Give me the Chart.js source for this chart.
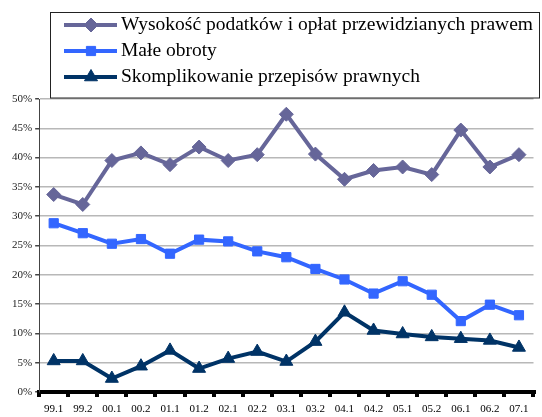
<!DOCTYPE html>
<html lang="pl">
<head>
  <meta charset="UTF-8">
  <title>Bariery</title>
  <style>
    body { margin: 0; padding: 0; background: #fff; }
    #wrap { width: 542px; height: 417px; }
  </style>
</head>
<body>
  <div id="wrap"><canvas id="chart" width="542" height="417"></canvas></div>

  <script src="https://cdn.jsdelivr.net/npm/chart.js"></script>
  <script>
    const periods = ['99.1', '99.2', '00.1', '00.2', '01.1', '01.2', '02.1', '02.2', '03.1',
                     '03.2', '04.1', '04.2', '05.1', '05.2', '06.1', '06.2', '07.1'];
    const seriesNames = ['Wysokość podatków i opłat przewidzianych prawem', 'Małe obroty',
                         'Skomplikowanie przepisów prawnych'];
    const podatki = [33.7, 32.0, 39.5, 40.8, 38.8, 41.8, 39.5, 40.5, 47.4,
                     40.6, 36.3, 37.8, 38.4, 37.1, 44.7, 38.4, 40.5];
    const obroty = [28.8, 27.1, 25.3, 26.1, 23.6, 26.0, 25.7, 24.0, 23.0,
                    21.0, 19.2, 16.8, 18.9, 16.6, 12.1, 14.9, 13.1];
    const przepisy = [5.3, 5.3, 2.3, 4.4, 7.1, 4.0, 5.7, 6.9, 5.2,
                      8.6, 13.6, 10.5, 9.9, 9.4, 9.1, 8.8, 7.6];

    const colors = ['#666699', '#3366ff', '#003366'];
    const styles = ['rectRot', 'rect', 'triangle'];
    const radii = [7, 6.5, 7.5];
    const serif = '"Liberation Serif", "DejaVu Serif", serif';

    // boxed legend drawn over the top of the plot, like the original
    const boxLegend = {
      id: 'boxLegend',
      afterDraw(chart) {
        const ctx = chart.ctx;
        ctx.save();
        ctx.fillStyle = '#fff';
        ctx.fillRect(50, 12, 490, 86);
        ctx.strokeStyle = '#222';
        ctx.lineWidth = 1;
        ctx.strokeRect(50.5, 12.5, 489, 85.5);
        chart.data.datasets.forEach((ds, i) => {
          const y = 25 + i * 26;
          ctx.strokeStyle = ds.borderColor;
          ctx.lineWidth = 4;
          ctx.beginPath();
          ctx.moveTo(64, y);
          ctx.lineTo(117, y);
          ctx.stroke();
          ctx.fillStyle = ds.borderColor;
          ctx.lineWidth = 1;
          Chart.helpers.drawPoint(ctx, {
            pointStyle: ds.pointStyle, radius: ds.pointRadius, borderWidth: 1
          }, 91, y);
          ctx.fillStyle = '#000';
          ctx.font = '19.5px ' + serif;
          ctx.textBaseline = 'middle';
          ctx.fillText(ds.label, 121, y);
        });
        ctx.restore();
      }
    };

    const datasets = [podatki, obroty, przepisy].map((vals, i) => ({
      label: seriesNames[i],
      data: vals,
      borderColor: colors[i],
      backgroundColor: colors[i],
      borderWidth: 4,
      pointStyle: styles[i],
      pointRadius: radii[i],
      pointBorderWidth: 1,
      tension: 0
    }));

    new Chart(document.getElementById('chart'), {
      type: 'line',
      data: { labels: periods, datasets: datasets },
      plugins: [boxLegend],
      options: {
        responsive: false,
        animation: false,
        layout: { padding: { top: 99, right: 0, left: 9, bottom: -5 } },
        plugins: { legend: { display: false }, tooltip: { enabled: false } },
        scales: {
          x: {
            offset: true,
            grid: {
              offset: true,
              drawOnChartArea: false,
              color: '#000',
              lineWidth: 4,
              tickLength: 5
            },
            border: { display: true, color: '#000', width: 4 },
            ticks: {
              color: '#000',
              font: { family: serif, size: 11, lineHeight: 1 },
              padding: 7,
              maxRotation: 0,
              autoSkip: false
            }
          },
          y: {
            min: 0,
            max: 50,
            grid: {
              color: '#b8b8b8',
              lineWidth: 1.5,
              borderDash: [9, 6],
              tickColor: '#444',
              tickBorderDash: [],
              tickLength: 4
            },
            border: { display: true, color: '#444', width: 1 },
            ticks: {
              stepSize: 5,
              color: '#222',
              font: { family: serif, size: 11 },
              padding: 3,
              callback: v => v + '%'
            }
          }
        }
      }
    });
  </script>
</body>
</html>
